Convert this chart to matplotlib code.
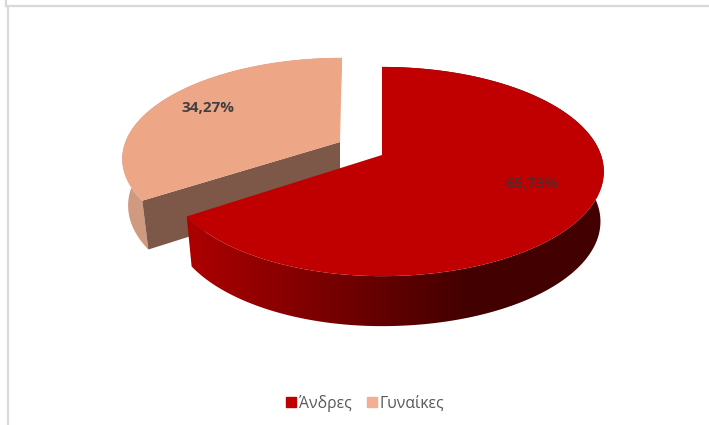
import numpy as np
import matplotlib
matplotlib.use("Agg")
import matplotlib.pyplot as plt
from matplotlib.patches import Patch, Polygon
from matplotlib.colors import LinearSegmentedColormap

categories = ["Άνδρες", "Γυναίκες"]
values = [65.73, 34.27]
labels = ["65,73%", "34,27%"]

plt.rcParams['font.family'] = ['Open Sans', 'DejaVu Sans']
TOP_COLORS = ["#c00000", "#eda686"]
GRAY = "#d9d9d9"

fig = plt.figure(figsize=(7.09, 4.25), dpi=100)
ax = fig.add_axes([0, 0, 1, 1])
ax.set_xlim(0, 709)
ax.set_ylim(425, 0)
ax.axis("off")

K = 0.158


def project(theta, r, apex, sx, sy, left=1.0, shear=0.0):
    """Perspective view of a point on a unit disc, theta clockwise from the top."""
    X = r * np.sin(theta)
    Y = r * np.cos(theta)
    d = 1 + K * Y
    side = np.where(X < 0, left, 1.0)
    y = apex[1] - sy * 102 * Y / d
    return apex[0] + side * sx * 219 * X / d + shear * (apex[1] - y), y


frac = np.cumsum([0] + values) / sum(values) * 2 * np.pi

# frame fragments of the surrounding sheet
ax.plot([5.5, 5.5], [0, 6], color=GRAY, lw=1.6)
ax.plot([5.5, 709], [6, 6], color=GRAY, lw=1.6)
ax.plot([8, 8], [7, 425], color=GRAY, lw=1.6)

# --- second slice (exploded), drawn first because it sits behind
a0, a1 = frac[1], frac[2]
t = np.linspace(a0, a1, 200)
ap_t = (340, 142)
ap_b = (340, 189)
kw_top = dict(sx=0.98, sy=0.955, shear=0.024)
kw_bot = dict(sx=0.955, sy=0.985, shear=0.006)
tx, ty = project(t, 1, ap_t, **kw_top)
bx, by = project(t, 1, ap_b, **kw_bot)
ax.fill(np.r_[tx, bx[::-1]], np.r_[ty, by[::-1]], color="#cf9a80", lw=0, zorder=1)
ax.fill([ap_t[0], tx[0], bx[0], ap_b[0]], [ap_t[1], ty[0], by[0], ap_b[1]],
        color="#7d5848", lw=0, zorder=2)
ax.fill(np.r_[ap_t[0], tx], np.r_[ap_t[1], ty], color=TOP_COLORS[1], lw=0, zorder=3)

# --- first slice
a0, a1 = frac[0], frac[1]
t = np.linspace(a0, a1, 400)
ap_t = (382, 155)
ap_b = (382, 205)
kw_top = dict(sx=1.0, sy=1.0, left=0.975)
kw_bot = dict(sx=0.985, sy=1.0, left=0.965)
tx, ty = project(t, 1, ap_t, **kw_top)
bx, by = project(t, 1, ap_b, **kw_bot)
wall = Polygon(np.c_[np.r_[tx, bx[::-1]], np.r_[ty, by[::-1]]], closed=True,
               facecolor="none", edgecolor="none", zorder=4)
ax.add_patch(wall)
cmap = LinearSegmentedColormap.from_list("wall", ["#ac0000", "#420000"])
grad = np.clip((np.arange(170, 630) + 0.5 - 190) / (470 - 190), 0, 1)[None, :]
img = ax.imshow(grad, cmap=cmap, vmin=0, vmax=1, extent=(170, 630, 340, 60),
                aspect="auto", zorder=4, interpolation="bilinear")
img.set_clip_path(wall)
ax.set_xlim(0, 709)
ax.set_ylim(425, 0)
ax.fill(np.r_[ap_t[0], tx], np.r_[ap_t[1], ty], color=TOP_COLORS[0], lw=0, zorder=5)

# data labels
ax.text(532, 184, labels[0], ha="center", va="center", fontsize=11,
        fontweight="bold", color="#5a2828", zorder=6)
ax.text(208, 108, labels[1], ha="center", va="center", fontsize=11,
        fontweight="bold", color="#404040", zorder=6)

# legend
handles = [Patch(color=c, label=n) for c, n in zip(["#c00000", "#f4ae93"], categories)]
ax.legend(handles=handles, ncol=2, frameon=False, loc="center",
          bbox_to_anchor=(365.5 / 709, 1 - 403 / 425), fontsize=11.3, labelcolor="#595959",
          handlelength=0.6, handleheight=0.6, handletextpad=0.2, columnspacing=1.0)

fig.savefig("out.png", dpi=100)
